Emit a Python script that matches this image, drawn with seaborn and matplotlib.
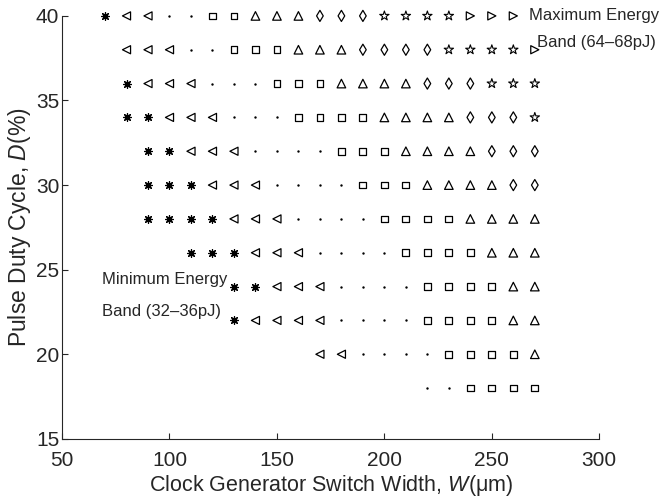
import pandas as pd
import matplotlib
matplotlib.use("Agg")
import matplotlib.pyplot as plt
import seaborn as sns

# duty cycle rows, first switch width in each row, and how many cells of
# each energy band follow one another along that row
duty = [40, 38, 36, 34, 32, 30, 28, 26, 24, 22, 20, 18]
start_width = [70, 80, 80, 80, 90, 90, 90, 110, 130, 130, 170, 220]
band_counts = [
    [1, 2, 2, 2, 3, 3, 4, 3],
    [0, 3, 2, 3, 3, 4, 4, 1],
    [1, 3, 3, 3, 4, 3, 3, 0],
    [2, 3, 3, 4, 4, 3, 1, 0],
    [2, 3, 4, 3, 4, 3, 0, 0],
    [3, 3, 4, 3, 4, 2, 0, 0],
    [4, 3, 4, 4, 4, 0, 0, 0],
    [3, 3, 4, 4, 3, 0, 0, 0],
    [2, 3, 4, 4, 2, 0, 0, 0],
    [1, 4, 4, 4, 2, 0, 0, 0],
    [0, 2, 4, 4, 1, 0, 0, 0],
    [0, 0, 2, 4, 0, 0, 0, 0],
]
width_step = 10
bands = ["asterisk", "left", "dot", "square", "up", "diamond", "star", "right"]

x_ticks = [50, 100, 150, 200, 250, 300]
y_ticks = [15, 20, 25, 30, 35, 40]

# marker style for each band
band_style = {
    "asterisk": dict(marker=(8, 2, 0), s=30, color="k", linewidth=0.9),
    "left": dict(marker="<", s=34, facecolor="none", edgecolor="k", linewidth=0.9),
    "dot": dict(marker="o", s=3, color="k", linewidth=0),
    "square": dict(marker="s", s=24, facecolor="none", edgecolor="k", linewidth=0.9),
    "up": dict(marker="^", s=38, facecolor="none", edgecolor="k", linewidth=0.9),
    "diamond": dict(marker="d", s=32, facecolor="none", edgecolor="k", linewidth=0.9),
    "star": dict(marker="*", s=50, facecolor="none", edgecolor="k", linewidth=0.8),
    "right": dict(marker=">", s=34, facecolor="none", edgecolor="k", linewidth=0.9),
}


def build_table():
    rows = []
    for d, w0, counts in zip(duty, start_width, band_counts):
        w = w0
        for band, n in zip(bands, counts):
            for _ in range(n):
                rows.append({"W": w, "D": d, "band": band})
                w += width_step
    return pd.DataFrame(rows)


def main():
    df = build_table()

    sns.set_style("ticks")
    plt.rcParams["font.family"] = ["Liberation Sans", "DejaVu Sans"]
    plt.rcParams["mathtext.fontset"] = "custom"
    plt.rcParams["mathtext.rm"] = "Liberation Sans"
    plt.rcParams["mathtext.it"] = "Liberation Sans:italic"

    fig = plt.figure(figsize=(6.6, 4.97), dpi=100)
    ax = fig.add_axes([0.094, 0.117, 0.814, 0.851])

    for band in bands:
        sub = df[df["band"] == band]
        sns.scatterplot(data=sub, x="W", y="D", ax=ax, legend=False,
                        clip_on=False, zorder=3, **band_style[band])

    ax.set_xlim(50, 300)
    ax.set_ylim(15, 40)
    ax.set_xticks(x_ticks)
    ax.set_yticks(y_ticks)
    ax.tick_params(direction="in", length=4, width=0.8, labelsize=15)
    ax.tick_params(axis="x", pad=9)
    ax.tick_params(axis="y", pad=2)
    sns.despine(ax=ax)
    for sp in ["left", "bottom"]:
        ax.spines[sp].set_linewidth(0.8)

    ax.set_xlabel("Clock Generator Switch Width, $W$(μm)", fontsize=15.5, labelpad=2)
    ax.set_ylabel("Pulse Duty Cycle, $D$(%)", fontsize=16.5, labelpad=2)

    ax.text(267.4, 40.05, "Maximum Energy", fontsize=12, va="center", ha="left")
    ax.text(271, 38.4, "Band (64\u201368pJ)", fontsize=12, va="center", ha="left")
    ax.text(68.6, 24.4, "Minimum Energy", fontsize=12, va="center", ha="left")
    ax.text(68.6, 22.5, "Band (32\u201336pJ)", fontsize=12, va="center", ha="left")

    fig.savefig("out.png", dpi=100)


if __name__ == "__main__":
    main()
